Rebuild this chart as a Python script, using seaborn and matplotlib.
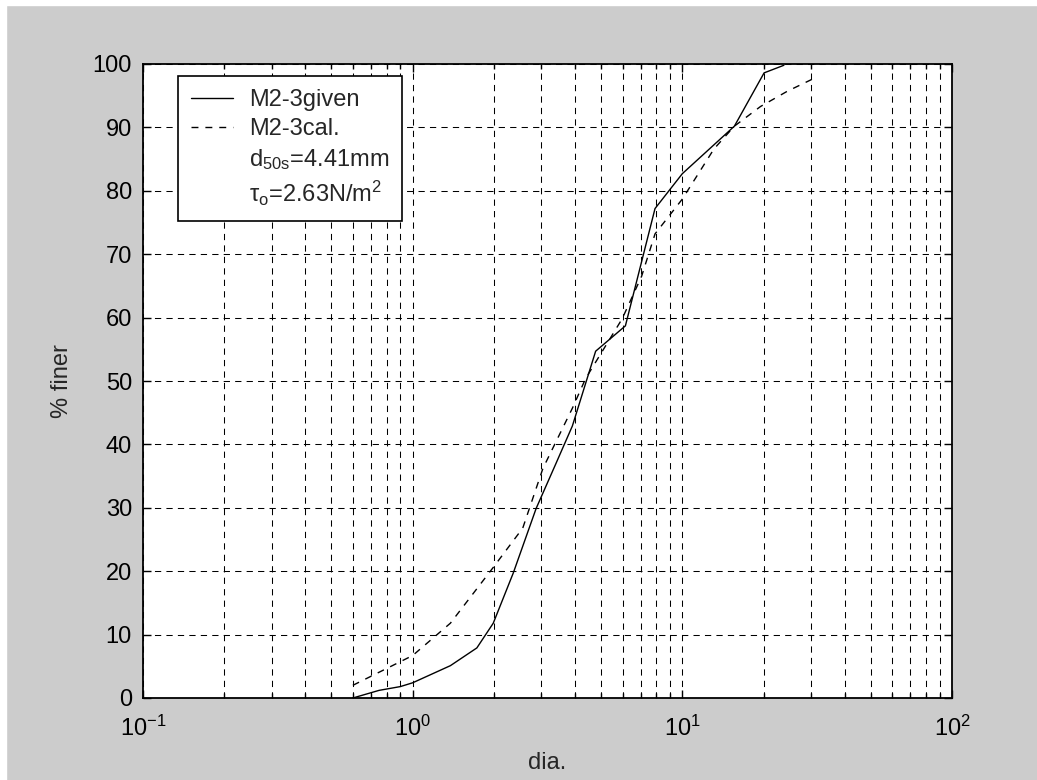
import numpy as np
import pandas as pd
import matplotlib
matplotlib.use("Agg")
import matplotlib.pyplot as plt
from matplotlib.lines import Line2D
from matplotlib.patches import Rectangle
import seaborn as sns

# grain size distribution
given_dia = [0.60, 0.75, 0.90, 1.0, 1.38, 1.73, 1.99, 2.36, 2.87, 3.40, 3.91, 4.77, 6.15, 7.92, 10.0, 15.6, 20.1, 23.8]
given_pct = [0.0, 1.2, 1.8, 2.4, 5.1, 7.9, 11.8, 19.7, 29.9, 37.0, 42.9, 54.7, 58.7, 77.2, 82.7, 90.2, 98.6, 99.8]

cal_dia = [0.60, 1.0, 1.38, 1.99, 2.56, 3.04, 3.91, 4.38, 5.98, 7.06, 7.92, 10.0, 13.1, 15.6, 19.5, 24.5, 31.0]
cal_pct = [2.0, 6.7, 11.8, 20.6, 26.8, 36.2, 45.7, 50.4, 59.8, 66.5, 73.2, 78.7, 86.6, 90.2, 93.3, 95.7, 97.8]

legend_labels = ["M2-3given", "M2-3cal.", r"d$_{\mathrm{50s}}$=4.41mm", r"τ$_{\mathrm{o}}$=2.63N/m$^{\mathrm{2}}$"]

BG = "#cccccc"
W, H = 1037, 780

sns.set_style("ticks")
plt.rcParams["font.family"] = ["Liberation Sans", "DejaVu Sans"]
plt.rcParams["mathtext.fontset"] = "custom"
plt.rcParams["mathtext.rm"] = "Liberation Sans"
plt.rcParams["mathtext.it"] = "Liberation Sans"
plt.rcParams["font.size"] = 17

fig = plt.figure(figsize=(W / 100, H / 100), dpi=100, facecolor=BG)
# thin white strips on the left and top edge
fig.add_artist(Rectangle((0, 0), 6 / W, 1, transform=fig.transFigure, color="white", zorder=-5))
fig.add_artist(Rectangle((0, 1 - 5 / H), 1, 5 / H, transform=fig.transFigure, color="white", zorder=-5))

ax = fig.add_axes([143 / W, 1 - 698 / H, (952 - 143) / W, (698 - 64) / H])
ax.set_facecolor("white")

df_given = pd.DataFrame({"dia": given_dia, "pct": given_pct})
df_cal = pd.DataFrame({"dia": cal_dia, "pct": cal_pct})

sns.lineplot(data=df_given, x="dia", y="pct", ax=ax, color="black", lw=1.0, zorder=3)
sns.lineplot(data=df_cal, x="dia", y="pct", ax=ax, color="black", lw=1.0,
             linestyle=(0, (5, 5)), zorder=3)

ax.set_xscale("log")
ax.set_xlim(0.1, 100)
ax.set_ylim(0, 100)
ax.set_yticks(np.arange(0, 101, 10))

grid_kw = dict(color="black", lw=0.75, linestyle=(0, (6, 5)))
ax.grid(True, which="both", axis="x", **grid_kw)
ax.grid(True, which="major", axis="y", **grid_kw)
ax.set_axisbelow(True)

ax.tick_params(which="both", direction="in", top=True, right=True, colors="black",
               labelsize=17)
ax.tick_params(which="major", length=6, width=1)
ax.tick_params(which="minor", length=3.5, width=1)
ax.tick_params(axis="y", pad=8)
ax.tick_params(axis="x", pad=13)
for sp in ax.spines.values():
    sp.set_color("black")
    sp.set_linewidth(1.3)

ax.set_xlabel("dia.", fontsize=17, labelpad=8)
ax.set_ylabel("% finer", fontsize=17, labelpad=14)

handles = [
    Line2D([], [], color="black", lw=1.0),
    Line2D([], [], color="black", lw=1.0, linestyle=(0, (5, 5))),
    Line2D([], [], color="none"),
    Line2D([], [], color="none"),
]
leg = ax.legend(handles, legend_labels, loc="upper left",
                bbox_to_anchor=(178 / W, 1 - 76 / H), bbox_transform=fig.transFigure,
                borderaxespad=0, fancybox=False, frameon=True, fontsize=17,
                handlelength=1.8, handletextpad=0.65, labelspacing=0.3, borderpad=0.55)
leg.get_frame().set_edgecolor("black")
leg.get_frame().set_linewidth(1.2)
leg.get_frame().set_facecolor("white")
leg.get_frame().set_alpha(1)
leg.set_zorder(5)

fig.savefig("out.png", dpi=100, facecolor=BG)
